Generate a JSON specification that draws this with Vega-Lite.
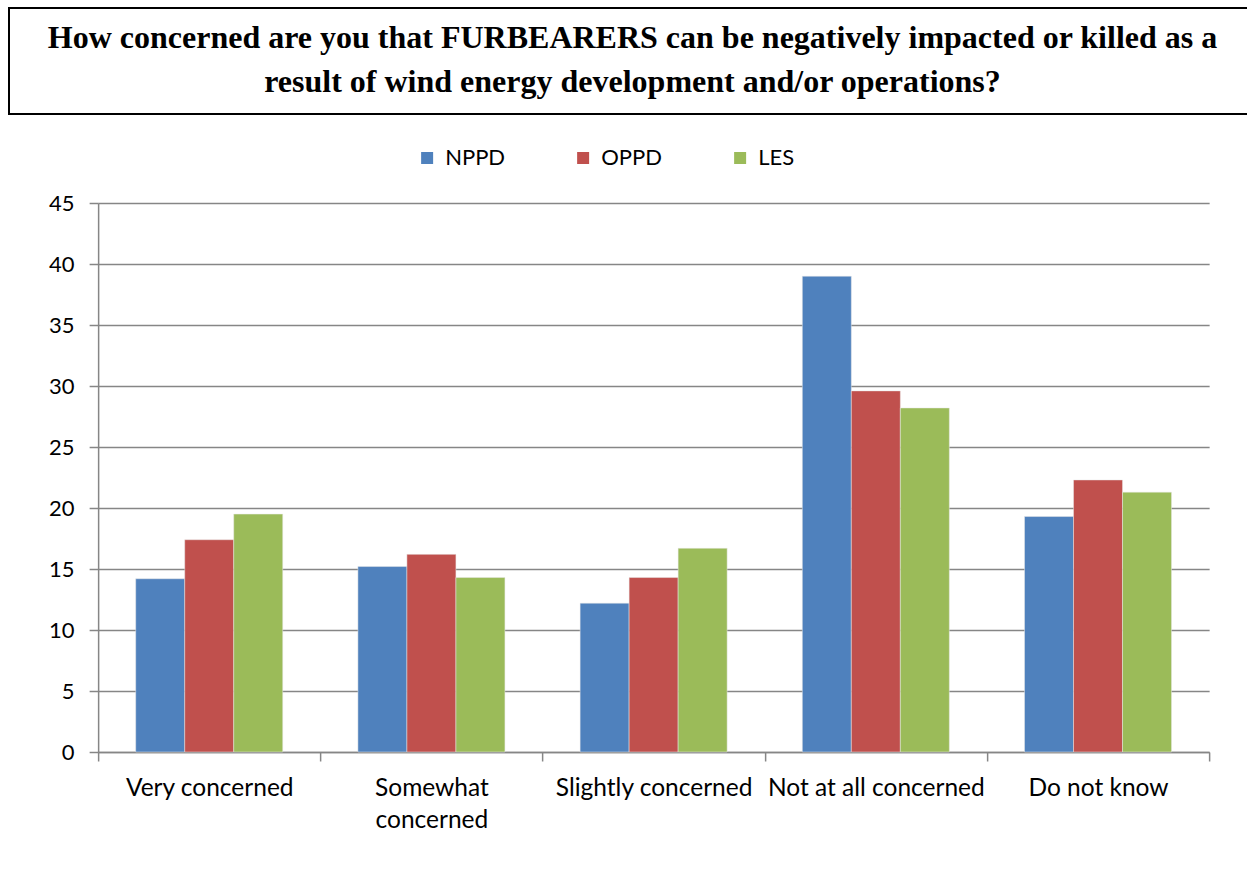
{
  "$schema": "https://vega.github.io/schema/vega-lite/v6.json",
  "autosize": {"type": "pad"},
  "padding": {"left": 8, "top": 7, "right": 0, "bottom": 0},
  "background": "white",
  "spacing": 32,
  "center": true,
  "config": {
    "font": "Lato"
  },
  "resolve": {"legend": {"color": "independent"}},
  "vconcat": [
    {
      "width": 1289,
      "height": 106,
      "data": {"values": [
        {"line": 1, "t": "How concerned are you that FURBEARERS can be negatively impacted or killed as a"},
        {"line": 2, "t": "result of wind energy development and/or operations?"}
      ]},
      "view": {"stroke": "black", "strokeWidth": 2},
      "mark": {"type": "text", "font": "Liberation Serif", "fontWeight": "bold", "fontSize": 32, "color": "black", "baseline": "middle", "align": "center", "dx": -21, "dy": -1},
      "encoding": {
        "y": {"field": "line", "type": "ordinal", "axis": null, "scale": {"padding": 0.73}},
        "text": {"field": "t"}
      }
    },
    {
      "width": 1111,
      "height": 549,
      "data": {"values": [
        {"cat": "Very concerned", "org": "NPPD", "v": 14.2},
        {"cat": "Very concerned", "org": "OPPD", "v": 17.4},
        {"cat": "Very concerned", "org": "LES", "v": 19.5},
        {"cat": "Somewhat concerned", "org": "NPPD", "v": 15.2},
        {"cat": "Somewhat concerned", "org": "OPPD", "v": 16.2},
        {"cat": "Somewhat concerned", "org": "LES", "v": 14.3},
        {"cat": "Slightly concerned", "org": "NPPD", "v": 12.2},
        {"cat": "Slightly concerned", "org": "OPPD", "v": 14.3},
        {"cat": "Slightly concerned", "org": "LES", "v": 16.7},
        {"cat": "Not at all concerned", "org": "NPPD", "v": 39.0},
        {"cat": "Not at all concerned", "org": "OPPD", "v": 29.6},
        {"cat": "Not at all concerned", "org": "LES", "v": 28.2},
        {"cat": "Do not know", "org": "NPPD", "v": 19.3},
        {"cat": "Do not know", "org": "OPPD", "v": 22.3},
        {"cat": "Do not know", "org": "LES", "v": 21.3}
      ]},
      "view": {"stroke": null},
      "mark": {"type": "bar", "stroke": "#e8e8e8", "strokeWidth": 0.5},
      "encoding": {
        "x": {
          "field": "cat", "type": "nominal",
          "sort": ["Very concerned", "Somewhat concerned", "Slightly concerned", "Not at all concerned", "Do not know"],
          "scale": {"paddingInner": 0, "paddingOuter": 0},
          "axis": {
            "title": null, "labelAngle": 0, "labelFont": "Lato", "labelFontSize": 24.5, "labelColor": "black",
            "domainColor": "#868686", "domainWidth": 1.5, "tickColor": "#868686", "tickWidth": 1.5, "tickSize": 9,
            "tickBand": "extent", "labelPadding": 15, "labelLineHeight": 32, "labelBaseline": "top",
            "labelExpr": "datum.value == 'Somewhat concerned' ? ['Somewhat', 'concerned'] : datum.value",
            "labelLimit": 300
          }
        },
        "xOffset": {"field": "org", "type": "nominal", "sort": ["NPPD", "OPPD", "LES"], "scale": {"paddingInner": 0, "paddingOuter": 0.767}},
        "y": {
          "field": "v", "type": "quantitative",
          "scale": {"domain": [0, 45], "nice": false},
          "axis": {
            "values": [0, 5, 10, 15, 20, 25, 30, 35, 40, 45],
            "title": null,
            "labelFont": "Lato", "labelFontSize": 22, "labelColor": "black", "labelPadding": 15,
            "domainColor": "#868686", "domainWidth": 1.5, "tickColor": "#868686", "tickWidth": 1.5, "tickSize": 9,
            "gridColor": "#868686", "gridWidth": 1.5
          }
        },
        "color": {
          "field": "org", "type": "nominal",
          "scale": {"domain": ["NPPD", "OPPD", "LES"], "range": ["#4F81BD", "#C0504D", "#9BBB59"]},
          "legend": {
            "title": null, "orient": "none", "direction": "horizontal",
            "legendX": 318, "legendY": -56, "padding": 0,
            "symbolType": "square", "symbolSize": 144, "symbolStrokeWidth": 0,
            "labelFont": "Lato", "labelFontSize": 22, "labelColor": "black", "labelOffset": 7,
            "columnPadding": 67
          }
        }
      }
    }
  ]
}
